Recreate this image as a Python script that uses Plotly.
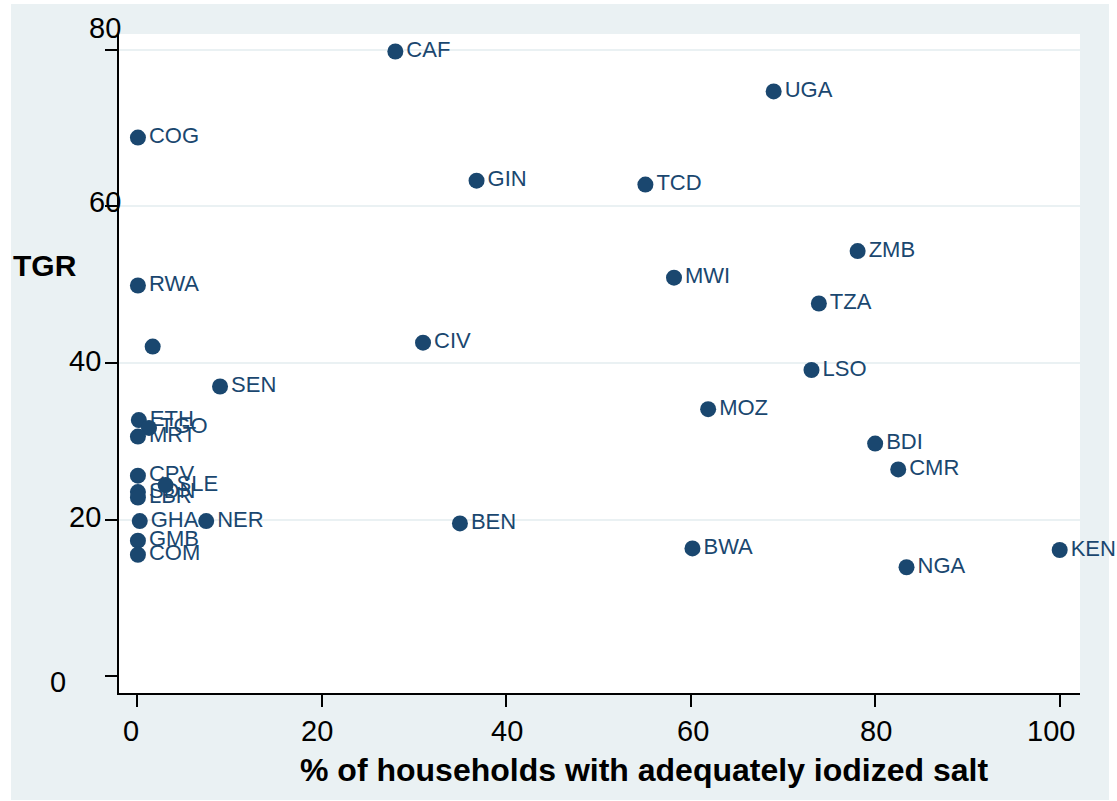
import plotly.graph_objects as go

# Country codes, share of households with adequately iodized salt (%), total goitre rate (%)
iso = ["CAF", "UGA", "COG", "GIN", "TCD", "ZMB", "MWI", "RWA", "TZA", "",
       "CIV", "LSO", "SEN", "MOZ", "ETH", "TGO", "MRT", "BDI", "CMR", "CPV",
       "SLE", "SDN", "LBR", "GHA", "NER", "BEN", "GMB", "COM", "BWA", "NGA", "KEN"]
iodized = [28.0, 69.0, 0.1, 36.8, 55.1, 78.1, 58.2, 0.1, 73.9, 1.7,
           31.0, 73.1, 9.0, 61.9, 0.2, 1.3, 0.1, 80.0, 82.5, 0.1,
           3.1, 0.1, 0.1, 0.3, 7.5, 35.0, 0.1, 0.1, 60.2, 83.4, 100.0]
tgr = [79.8, 74.7, 68.8, 63.3, 62.8, 54.3, 50.9, 49.9, 47.6, 42.1,
       42.6, 39.1, 37.0, 34.1, 32.7, 31.7, 30.6, 29.7, 26.4, 25.6,
       24.4, 23.5, 22.8, 19.8, 19.8, 19.5, 17.3, 15.5, 16.3, 13.9, 16.1]

x_ticks = [0, 20, 40, 60, 80, 100]
y_ticks = [0, 20, 40, 60, 80]
grid_vals = [20, 40, 60, 80]

NAVY = "#1A476F"
BG = "#EAF1F3"
FONT = "Liberation Sans, Arial, sans-serif"

fig = go.Figure()
fig.add_trace(go.Scatter(
    x=iodized, y=tgr, text=iso, mode="markers+text",
    textposition="middle right",
    marker=dict(size=16, color=NAVY),
    textfont=dict(family=FONT, size=22, color=NAVY),
    cliponaxis=False, hoverinfo="skip", showlegend=False,
))

# Grid-only overlay axis (no line at the bottom edge)
fig.add_trace(go.Scatter(x=[None], y=[None], yaxis="y2", showlegend=False))

annotations = []
# x tick labels: horizontal pixel nudges per label
x_nudge = [-6, -5, 1, 2, 1, -9]
for v, dx in zip(x_ticks, x_nudge):
    annotations.append(dict(x=v, y=0, xref="x", yref="paper", text=str(v),
                            showarrow=False, xanchor="center", yanchor="middle",
                            xshift=dx, yshift=-38,
                            font=dict(family=FONT, size=29, color="black")))
# y tick labels
y_shift = {0: (-51, -6), 20: (-16, 2.5), 40: (-16, 2), 60: (4, 4.5), 80: (4, 22)}
for v in y_ticks:
    dx, dy = y_shift[v]
    annotations.append(dict(x=0, y=v, xref="paper", yref="y", text=str(v),
                            showarrow=False, xanchor="right", yanchor="middle",
                            xshift=dx, yshift=dy,
                            font=dict(family=FONT, size=29, color="black")))
annotations.append(dict(x=-0.0765, y=0.648, xref="paper", yref="paper",
                        text="<b>TGR</b>", showarrow=False,
                        xanchor="center", yanchor="middle",
                        font=dict(family=FONT, size=30, color="black")))
annotations.append(dict(x=0.5463, y=-0.1168, xref="paper", yref="paper",
                        text="<b>% of households with adequately iodized salt</b>",
                        showarrow=False, xanchor="center", yanchor="middle",
                        font=dict(family=FONT, size=32, color="black")))

shapes = [
    dict(type="rect", xref="paper", yref="paper", x0=-0.1124, x1=1.0302,
         y0=-0.1624, y1=1.0455, fillcolor=BG, line=dict(width=0), layer="below"),
    dict(type="rect", xref="paper", yref="paper", x0=0, x1=1, y0=0, y1=1,
         fillcolor="white", line=dict(width=0), layer="below"),
]

fig.update_layout(
    width=1117, height=801,
    margin=dict(l=119, r=37, t=34, b=108),
    paper_bgcolor="white", plot_bgcolor="white",
    font=dict(family=FONT),
    xaxis=dict(range=[-1.95, 102.2], tickvals=x_ticks, showticklabels=False,
               ticks="outside", ticklen=12, tickwidth=1.5, tickcolor="black",
               showline=True, linecolor="black", linewidth=1.5,
               showgrid=False, zeroline=False),
    yaxis=dict(range=[-2.17, 82.04], tickvals=y_ticks, showticklabels=False,
               ticks="outside", ticklen=12, tickwidth=1.5, tickcolor="black",
               showline=True, linecolor="black", linewidth=1.5,
               showgrid=False, zeroline=False),
    yaxis2=dict(range=[-2.17, 82.04], overlaying="y", tickvals=grid_vals,
                showticklabels=False, ticks="", showgrid=True,
                gridcolor=BG, gridwidth=2, zeroline=False, showline=False),
    annotations=annotations, shapes=shapes,
)

fig.write_html("out.html")
